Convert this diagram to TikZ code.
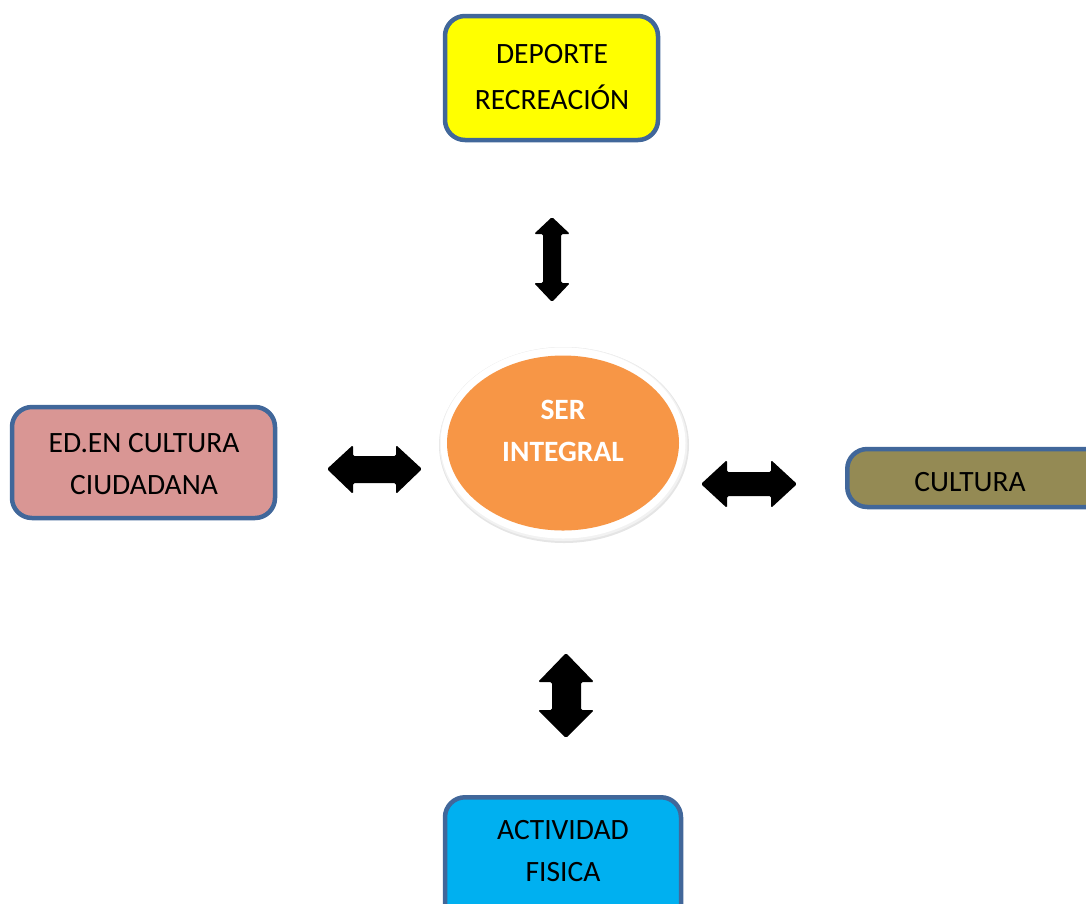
\documentclass[tikz,border=0pt]{standalone}
\usepackage{fontspec}
\setmainfont{Carlito}
\usetikzlibrary{shapes.geometric}
\definecolor{boxline}{HTML}{41679A}
\definecolor{yel}{HTML}{FFFF00}
\definecolor{pinkbox}{HTML}{D99694}
\definecolor{olive}{HTML}{948A54}
\definecolor{cyanbox}{HTML}{00B0F0}
\definecolor{orangeell}{HTML}{F79646}
\tikzset{
  box/.style={draw=boxline, line width=4.5pt, rounded corners=20pt, inner sep=0pt},
  boxtext/.style={font=\fontsize{29.5}{42}\selectfont, align=center},
  blockarrow/.style={fill=black, rounded corners=1.5pt},
}
\begin{document}
\begin{tikzpicture}[x=1pt,y=-1pt]
\useasboundingbox (0,0) rectangle (1086,903);
% boxes
\node[box, fill=yel, minimum width=213pt, minimum height=124pt] (dep) at (551.5,78) {};
\node[boxtext, font=\fontsize{29.5}{46}\selectfont] (dept) at (552,77) {DEPORTE\\RECREACIÓN};
\node[box, fill=pinkbox, minimum width=263pt, minimum height=111pt] (ed) at (143.5,462.5) {};
\node[boxtext] (edt) at (144,464) {ED.EN CULTURA\\CIUDADANA};
\node[box, fill=olive, minimum width=260pt, minimum height=58pt, anchor=west] (cul) at (845,478) {};
\node[boxtext] (cult) at (970,482) {CULTURA};
\node[box, fill=cyanbox, minimum width=236pt, minimum height=130pt, anchor=north] (act) at (563,795) {};
\node[boxtext] (actt) at (563,851) {ACTIVIDAD\\FISICA};
% center ellipse
\node[ellipse, fill=black!10, minimum width=250pt, minimum height=196pt] (sersh) at (564,445) {};
\node[ellipse, fill=black!5, minimum width=248pt, minimum height=194pt] (sersh2) at (563.5,444) {};
\node[ellipse, fill=white, minimum width=245pt, minimum height=191pt] (serw) at (563,443) {};
\node[ellipse, fill=orangeell, minimum width=232pt, minimum height=175pt] (ser) at (563,443) {};
\node[font=\fontsize{29.5}{42}\selectfont\bfseries, text=white, align=center] (sert) at (563,431) {SER\\INTEGRAL};
% block arrows
\fill[blockarrow] (552,217) -- (570,234) -- (561,234) -- (561,283) -- (570,283) -- (552,302) -- (534,283) -- (543,283) -- (543,234) -- (534,234) -- cycle;
\fill[blockarrow] (566,653) -- (594,682) -- (581,682) -- (581,710) -- (594,710) -- (566,738) -- (538,710) -- (552,710) -- (552,682) -- (538,682) -- cycle;
\fill[blockarrow] (327,469) -- (353,445) -- (353,456) -- (396,456) -- (396,445) -- (422,469) -- (396,494) -- (396,483) -- (353,483) -- (353,494) -- cycle;
\fill[blockarrow] (701,484) -- (727,460) -- (727,472) -- (771,472) -- (771,460) -- (797,484) -- (771,508) -- (771,496) -- (727,496) -- (727,508) -- cycle;
\end{tikzpicture}
\end{document}
